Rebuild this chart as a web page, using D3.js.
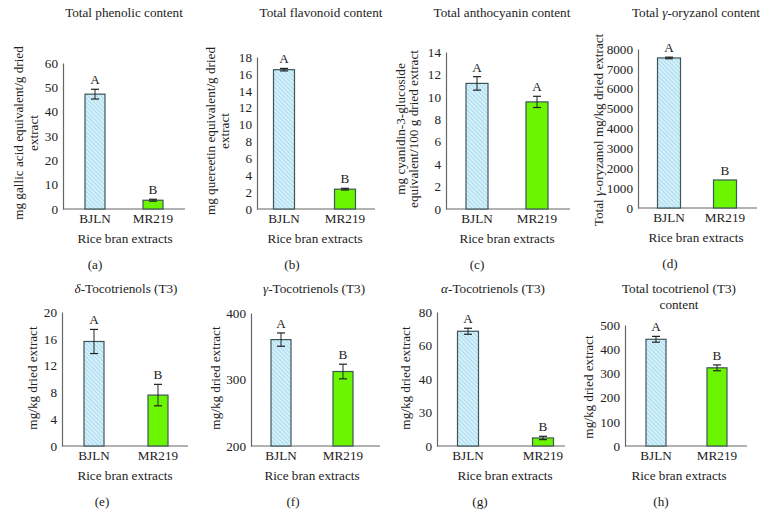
<!DOCTYPE html>
<html><head><meta charset="utf-8">
<script src="https://cdn.jsdelivr.net/npm/d3@7"></script>
<style>body{margin:0;background:#fff}svg{display:block}text{font-family:"Liberation Serif","Times New Roman",serif;fill:#222}</style>
</head><body><svg id="c" width="770" height="529"></svg>
<script>
// ---------- DATA ----------
const categories = ["BJLN", "MR219"];
const panelIds = ["(a)", "(b)", "(c)", "(d)", "(e)", "(f)", "(g)", "(h)"];
const titles = [
  ["Total phenolic content"],
  ["Total flavonoid content"],
  ["Total anthocyanin content"],
  ["Total |γ|-oryzanol content"],
  ["|δ|-Tocotrienols (T3)"],
  ["|γ|-Tocotrienols (T3)"],
  ["|α|-Tocotrienols (T3)"],
  ["Total tocotrienol (T3)", "content"]
];
const yLabels = [
  ["mg gallic acid equivalent/g dried", "extract"],
  ["mg quereetin equivalent/g dried", "extract"],
  ["mg cyanidin-3-glucoside", "equivalent/100 g dried extract"],
  ["Total |γ|-oryzanol mg/kg dried extract"],
  ["mg/kg dried extract"],
  ["mg/kg dried extract"],
  ["mg/kg dried extract"],
  ["mg/kg dried extract"]
];
const xLabel = "Rice bran extracts";
const yDomains = [[0, 60], [0, 18], [0, 14], [0, 8000], [0, 20], [200, 400], [0, 80], [0, 500]];
const yTicks = [
  [0, 10, 20, 30, 40, 50, 60],
  [0, 2, 4, 6, 8, 10, 12, 14, 16, 18],
  [0, 2, 4, 6, 8, 10, 12, 14],
  [0, 1000, 2000, 3000, 4000, 5000, 6000, 7000, 8000],
  [0, 4, 8, 12, 16, 20],
  [200, 300, 400],
  [0, 20, 40, 60, 80],
  [0, 100, 200, 300, 400, 500]
];
const yTickLabels = [
  null, null, null, null, null, null,
  ["0", "30", "40", "60", "80"],
  null
];
const bjlnValues  = [47.2, 16.5, 11.2, 7550, 15.6, 360, 68.5, 441];
const mr219Values = [3.6, 2.35, 9.55, 1410, 7.6, 312, 4.8, 323];
const bjlnErrors  = [2.0, 0.15, 0.6, 40, 1.8, 10, 1.8, 12];
const mr219Errors = [0.4, 0.1, 0.5, 0, 1.6, 11, 1.0, 12];
const letters = [["A","B"],["A","B"],["A","A"],["A","B"],["A","B"],["A","B"],["A","B"],["A","B"]];

// ---------- LAYOUT ----------
const FS = 13.2;
const layout = [
  {l:63, r:185, t:63, b:209, cx:[95,153], bw:20, tx:124, ty:[17], ylx:[18,33], yly:133, xlx:125, idx:95},
  {l:257, r:375, t:57, b:209, cx:[284,345], bw:21, tx:321, ty:[17], ylx:[210,224], yly:131, xlx:315, idx:292},
  {l:446, r:570, t:52, b:209, cx:[477,537], bw:22, tx:502, ty:[17], ylx:[400,413], yly:129, xlx:507, idx:477},
  {l:638, r:757, t:49, b:208, cx:[669,725], bw:23, tx:696, ty:[17], ylx:[598], yly:130, xlx:696, idx:670},
  {l:62, r:188, t:312, b:446, cx:[94,158], bw:20, tx:126, ty:[293], ylx:[32], yly:378, xlx:125, idx:102},
  {l:251, r:380, t:313, b:446, cx:[281,343], bw:20, tx:314, ty:[293], ylx:[215], yly:378, xlx:312, idx:293},
  {l:437, r:565, t:312, b:446, cx:[468,543], bw:21, tx:493, ty:[293], ylx:[405], yly:378, xlx:505, idx:480},
  {l:625, r:747, t:325, b:446, cx:[656,717], bw:20, tx:679, ty:[293,309], ylx:[588], yly:387, xlx:679, idx:661}
];

const svg = d3.select("#c");
const defs = svg.append("defs");
const pat = defs.append("pattern").attr("id","hatch").attr("patternUnits","userSpaceOnUse")
  .attr("width",3).attr("height",3).attr("patternTransform","rotate(-45)");
pat.append("rect").attr("width",3).attr("height",3).attr("fill","#d4f1fb");
pat.append("line").attr("x1",0).attr("y1",0).attr("x2",0).attr("y2",3).attr("stroke","#8fcbe6").attr("stroke-width",1.2);

const fills = ["url(#hatch)", "#6cf500"];

function richText(sel, str) {
  const parts = str.split("|");
  parts.forEach((p, i) => {
    if (!p) return;
    const ts = sel.append("tspan").text(p);
    if (i % 2 === 1) ts.attr("font-style", "italic");
  });
}

layout.forEach((L, i) => {
  const g = svg.append("g");
  const y = d3.scaleLinear().domain(yDomains[i]).range([L.b, L.t]);
  const x = d3.scalePoint().domain(categories).range(L.cx);
  const vals = [bjlnValues[i], mr219Values[i]];
  const errs = [bjlnErrors[i], mr219Errors[i]];

  const ax = d3.axisLeft(y).tickValues(yTicks[i]).tickSize(0).tickPadding(5);
  if (yTickLabels[i]) ax.tickFormat((d, k) => yTickLabels[i][k]);
  else ax.tickFormat(d3.format("d"));
  const ag = g.append("g").attr("transform", `translate(${L.l},0)`).call(ax);
  ag.attr("font-family", null);
  ag.select(".domain").attr("stroke", "#666").attr("stroke-width", 1.2);
  ag.selectAll("text").attr("font-size", FS).attr("fill", "#222");

  g.append("line").attr("x1", L.l).attr("x2", L.r).attr("y1", L.b).attr("y2", L.b)
    .attr("stroke", "#666").attr("stroke-width", 1.2);

  categories.forEach((c, k) => {
    g.append("rect").attr("x", x(c) - L.bw / 2).attr("width", L.bw)
      .attr("y", y(vals[k])).attr("height", y(yDomains[i][0]) - y(vals[k]))
      .attr("fill", fills[k]).attr("stroke", "#3d5558").attr("stroke-width", 1.2);
    if (errs[k] > 0) {
      const y1 = y(vals[k] + errs[k]), y0 = y(vals[k] - errs[k]);
      g.append("line").attr("x1", x(c)).attr("x2", x(c)).attr("y1", y1).attr("y2", y0).attr("stroke", "#222").attr("stroke-width", 1);
      [y1, y0].forEach(yy => g.append("line").attr("x1", x(c) - 4).attr("x2", x(c) + 4).attr("y1", yy).attr("y2", yy).attr("stroke", "#222").attr("stroke-width", 1.2));
    }
    const top = y(vals[k] + errs[k]);
    g.append("text").attr("x", x(c)).attr("y", top - 5).attr("text-anchor", "middle")
      .attr("font-size", FS).text(letters[i][k]);
    g.append("text").attr("x", x(c)).attr("y", L.b + 14).attr("text-anchor", "middle")
      .attr("font-size", FS).text(c);
  });

  titles[i].forEach((t, k) => {
    const tt = g.append("text").attr("x", L.tx).attr("y", L.ty[k]).attr("text-anchor", "middle").attr("font-size", FS);
    richText(tt, t);
  });
  yLabels[i].forEach((t, k) => {
    const tt = g.append("text").attr("transform", `translate(${L.ylx[k]},${L.yly}) rotate(-90)`)
      .attr("text-anchor", "middle").attr("dominant-baseline", "central").attr("font-size", FS);
    richText(tt, t);
  });
  g.append("text").attr("x", L.xlx).attr("y", L.b + 34).attr("text-anchor", "middle").attr("font-size", FS).text(xLabel);
  g.append("text").attr("x", L.idx).attr("y", L.b + 60).attr("text-anchor", "middle").attr("font-size", FS).text(panelIds[i]);
});
</script></body></html>
